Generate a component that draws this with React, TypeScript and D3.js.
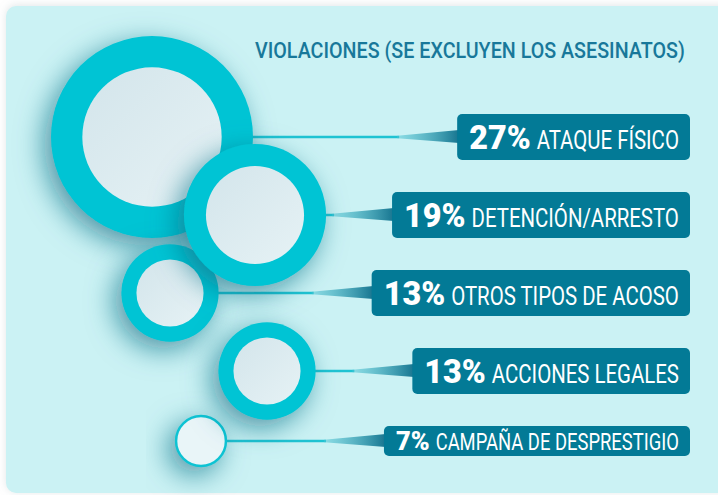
import { useEffect, useRef } from "react";
import * as d3 from "d3";

// Données
const title = "VIOLACIONES (SE EXCLUYEN LOS ASESINATOS)";
const categories = [
  "ATAQUE FÍSICO",
  "DETENCIÓN/ARRESTO",
  "OTROS TIPOS DE ACOSO",
  "ACCIONES LEGALES",
  "CAMPAÑA DE DESPRESTIGIO",
];
const values = [27, 19, 13, 13, 7];

const width = 718;
const height = 495;
const boxRight = 690;
const font = "Roboto, 'Liberation Sans', sans-serif";

const drawChart = (el: SVGSVGElement) => {
  const svg = d3.select(el);
  svg.selectAll("*").remove();

  const defs = svg.append("defs");

  const glow = defs.append("filter").attr("id", "glow")
    .attr("x", "-60%").attr("y", "-60%").attr("width", "220%").attr("height", "220%");
  glow.append("feDropShadow")
    .attr("dx", -7).attr("dy", 8).attr("stdDeviation", 14)
    .attr("flood-color", "#0a6f86").attr("flood-opacity", 0.7);

  const panelShadow = defs.append("filter").attr("id", "panelShadow")
    .attr("x", "-5%").attr("y", "-5%").attr("width", "110%").attr("height", "110%");
  panelShadow.append("feDropShadow")
    .attr("dx", 0).attr("dy", -1).attr("stdDeviation", 4)
    .attr("flood-color", "#8a9aa0").attr("flood-opacity", 0.25);

  const inner = defs.append("linearGradient").attr("id", "innerFill")
    .attr("x1", 0).attr("y1", 0).attr("x2", 1).attr("y2", 1);
  inner.append("stop").attr("offset", 0).attr("stop-color", "#d3e5eb");
  inner.append("stop").attr("offset", 1).attr("stop-color", "#e6f2f5");

  const wedge = defs.append("linearGradient").attr("id", "wedge")
    .attr("x1", 0).attr("y1", 0).attr("x2", 1).attr("y2", 0);
  wedge.append("stop").attr("offset", 0).attr("stop-color", "#4cc6d4").attr("stop-opacity", 0.5);
  wedge.append("stop").attr("offset", 1).attr("stop-color", "#16748f");

  // Panneau de fond
  svg.append("rect")
    .attr("x", 6).attr("y", 6).attr("width", 740).attr("height", 487).attr("rx", 10)
    .attr("fill", "#cbf2f4").attr("filter", "url(#panelShadow)");

  // Titre
  const titleText = svg.append("text")
    .attr("font-family", font).attr("font-size", 22).attr("font-weight", 500)
    .attr("fill", "#18789a")
    .text(title);
  const tw = (titleText.node() as SVGTextElement).getComputedTextLength();
  const titleScale = 430 / tw;
  titleText.attr("transform", `translate(${685 - tw * titleScale},${58}) scale(${titleScale},1)`);

  const rows = categories.map((name, i) => ({
    name,
    value: values[i],
    compact: i === categories.length - 1,
  }));

  const band = d3.scaleBand<string>()
    .domain(categories)
    .range([114, 114 + 78 * categories.length]);

  const r = d3.scaleLinear()
    .domain([0, d3.max(values) as number])
    .range([0, 101]);

  const cx = d3.scaleOrdinal<string, number>()
    .domain(categories)
    .range([152, 255, 170, 267, 201]);

  const boxH = (d: typeof rows[0]) => (d.compact ? 30 : 46);
  const cy = (d: typeof rows[0]) => (band(d.name) as number) + boxH(d) / 2;

  const linkLayer = svg.append("g");
  const circleLayer = svg.append("g");
  const boxLayer = svg.append("g");

  // Étiquettes
  const boxLeft: Record<string, number> = {};
  rows.forEach((d) => {
    const g = boxLayer.append("g");
    const rect = g.append("rect");
    const numSize = d.compact ? 26 : 33;
    const labSize = d.compact ? 23 : 25.5;
    const ns = 0.98, ls = 0.8;
    const num = g.append("text")
      .attr("font-family", font).attr("font-weight", 900)
      .attr("font-size", numSize).attr("fill", "#ffffff")
      .text(`${d.value}%`);
    const lab = g.append("text")
      .attr("font-family", font).attr("font-size", labSize).attr("fill", "#ffffff")
      .text(d.name);
    const nw = (num.node() as SVGTextElement).getComputedTextLength() * ns;
    const lw = (lab.node() as SVGTextElement).getComputedTextLength() * ls;
    const padL = 12, padR = 11, gap = 6;
    const left = boxRight - padR - lw - gap - nw - padL;
    boxLeft[d.name] = left;
    const base = cy(d) + numSize * 0.355;
    num.attr("transform", `translate(${left + padL},${base}) scale(${ns},1)`);
    lab.attr("transform", `translate(${left + padL + nw + gap},${base}) scale(${ls},1)`);
    rect.attr("x", left).attr("y", band(d.name) as number)
      .attr("width", boxRight - left).attr("height", boxH(d))
      .attr("rx", 5).attr("fill", "#037a96");
  });

  // Connecteurs
  rows.forEach((d) => {
    const y = cy(d);
    const bl = boxLeft[d.name];
    const wl = 60;
    linkLayer.append("line")
      .attr("x1", cx(d.name) + r(d.value) - 2).attr("x2", bl - wl + 2)
      .attr("y1", y).attr("y2", y)
      .attr("stroke", "#1fc3d2").attr("stroke-width", 2.5);
    linkLayer.append("path")
      .attr("d", `M${bl - wl},${y - 1.25}L${bl + 2},${y - 7}L${bl + 2},${y + 6}L${bl - wl},${y + 1.25}Z`)
      .attr("fill", "url(#wedge)");
  });

  // Cercles : colonne de gauche d'abord, puis celle de droite
  const order = rows.map((d, i) => ({ d, i })).sort((a, b) => (a.i % 2) - (b.i % 2) || a.i - b.i);
  order.forEach(({ d }) => {
    const g = circleLayer.append("g").attr("filter", "url(#glow)");
    const R = r(d.value);
    if (d.compact) {
      g.append("circle")
        .attr("cx", cx(d.name)).attr("cy", cy(d)).attr("r", R - 1.25)
        .attr("fill", "#e9f5f8").attr("stroke", "#10c3d3").attr("stroke-width", 2.5);
    } else {
      g.append("circle")
        .attr("cx", cx(d.name)).attr("cy", cy(d)).attr("r", R)
        .attr("fill", "#00c4d4");
      g.append("circle")
        .attr("cx", cx(d.name)).attr("cy", cy(d)).attr("r", R * 0.69)
        .attr("fill", "url(#innerFill)");
    }
  });
};

export default function App() {
  const ref = useRef<SVGSVGElement>(null);

  useEffect(() => {
    document.body.style.margin = "0";
    if (ref.current) drawChart(ref.current);
  }, []);

  return (
    <svg
      ref={ref}
      width={width}
      height={height}
      style={{ display: "block", position: "absolute", left: 0, top: 0, background: "#ffffff" }}
    />
  );
}
